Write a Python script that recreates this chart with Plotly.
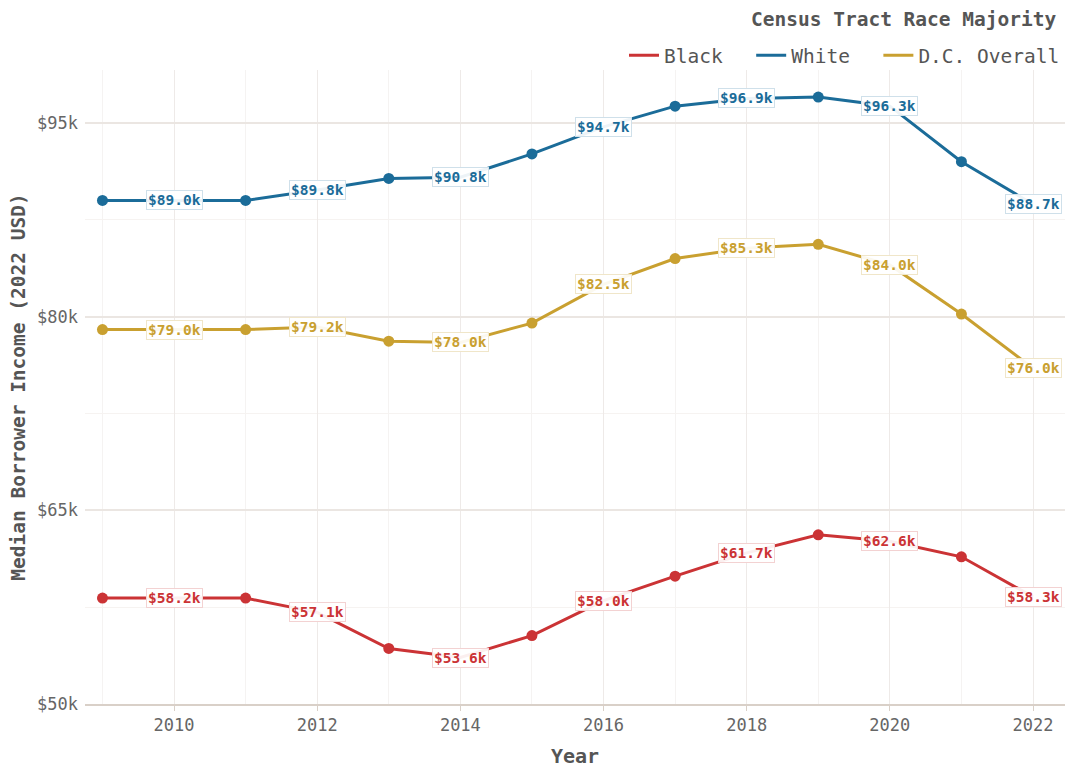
import plotly.graph_objects as go

# Median borrower income by census tract race majority, thousands of 2022 USD
years = list(range(2009, 2023))
black = [58.2, 58.2, 58.2, 57.1, 54.3, 53.6, 55.3, 58.0, 59.9, 61.7, 63.1, 62.6, 61.4, 58.3]
white = [89.0, 89.0, 89.0, 89.8, 90.7, 90.8, 92.6, 94.7, 96.3, 96.9, 97.0, 96.3, 92.0, 88.7]
overall = [79.0, 79.0, 79.0, 79.2, 78.1, 78.0, 79.5, 82.5, 84.5, 85.3, 85.6, 84.0, 80.2, 76.0]

series_names = ["Black", "White", "D.C. Overall"]
series_values = [black, white, overall]
series_colors = ["#cb3335", "#1b6c99", "#c9a030"]
label_borders = ["#f3d2d2", "#cfe0ea", "#f0e6c9"]

y_tick_vals = [50, 65, 80, 95]
y_tick_text = ["$50k", "$65k", "$80k", "$95k"]

FONT = "DejaVu Sans Mono"
NBSP = "\u00a0"

fig = go.Figure()
annotations = []

for i, (name, vals, color, border) in enumerate(zip(series_names, series_values, series_colors, label_borders)):
    # legend entries get a little trailing room between items
    legend_name = name + (NBSP * 2 if i < len(series_names) - 1 else "")
    # full line, shown in the legend
    fig.add_trace(go.Scatter(
        x=years, y=vals, mode="lines", name=legend_name, legendgroup=name,
        line=dict(color=color, width=3),
    ))
    # point markers on odd years
    odd_x = [yr for yr in years if yr % 2 == 1]
    odd_y = [v for yr, v in zip(years, vals) if yr % 2 == 1]
    fig.add_trace(go.Scatter(
        x=odd_x, y=odd_y, mode="markers", legendgroup=name, showlegend=False,
        marker=dict(color=color, size=11),
    ))
    # value labels on even years
    for yr, v in zip(years, vals):
        if yr % 2 == 0:
            annotations.append(dict(
                x=yr, y=v, xref="x", yref="y", text=f"${v:.1f}k", showarrow=False,
                font=dict(family=FONT, size=14.5, color=color, weight="bold"),
                bgcolor="rgba(255,255,255,0.92)", bordercolor=border, borderwidth=1, borderpad=1,
            ))

annotations.append(dict(
    x=1, y=1.079, xref="paper", yref="paper", xanchor="right", yanchor="middle",
    text="Census Tract Race Majority", showarrow=False, xshift=-6,
    font=dict(family=FONT, size=19.5, color="#555555", weight="bold"),
))

fig.update_layout(
    width=1065, height=768,
    margin=dict(l=85, r=0, t=70, b=64),
    paper_bgcolor="white", plot_bgcolor="white",
    font=dict(family=FONT, color="#555555"),
    annotations=annotations,
    showlegend=True,
    legend=dict(
        orientation="h", x=1, xanchor="right", y=0.992, yanchor="bottom",
        font=dict(family=FONT, size=19.5, color="#555555"),
        bgcolor="rgba(0,0,0,0)", itemwidth=30, traceorder="normal",
    ),
    xaxis=dict(
        range=[2008.756, 2022.447],
        tickmode="linear", tick0=2010, dtick=2,
        showgrid=True, gridcolor="#eeeae8", gridwidth=1.2,
        minor=dict(dtick=1, tick0=2009, showgrid=True, gridcolor="#f5f3f2", gridwidth=1),
        showline=True, linecolor="#d9d0c8", linewidth=1.5,
        ticks="outside", ticklen=5, tickcolor="#d9d0c8",
        tickfont=dict(family=FONT, size=17, color="#666666"),
        title=dict(text="Year", font=dict(family=FONT, size=20, color="#555555", weight="bold"), standoff=15),
        zeroline=False,
    ),
    yaxis=dict(
        range=[50, 99.1],
        tickmode="array", tickvals=y_tick_vals, ticktext=y_tick_text,
        showgrid=True, gridcolor="#ebe6e2", gridwidth=1.5,
        minor=dict(tickmode="array", tickvals=[57.5, 72.5, 87.5], showgrid=True, gridcolor="#f6f3f1", gridwidth=1),
        ticks="", ticklabelstandoff=6,
        tickfont=dict(family=FONT, size=17, color="#666666"),
        title=dict(text="Median Borrower Income (2022 USD)", font=dict(family=FONT, size=19.5, color="#555555", weight="bold"), standoff=6),
        zeroline=False, showline=False,
    ),
)

fig.write_html("out.html")
